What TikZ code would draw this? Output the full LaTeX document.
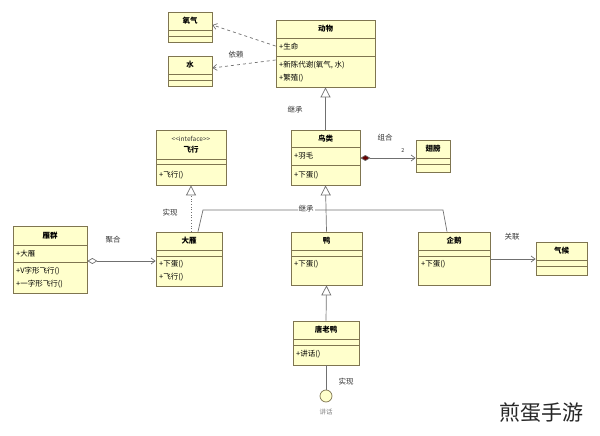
\documentclass[tikz,border=0pt]{standalone}
\usepackage{fontspec}
\setmainfont{Noto Sans CJK SC}
\newfontfamily\wm{Noto Sans CJK SC}
\usetikzlibrary{arrows.meta}
\definecolor{fillc}{HTML}{FFFFCC}
\definecolor{edgec}{HTML}{7F7550}
\definecolor{linec}{HTML}{707070}
\tikzset{
 box/.style={draw=edgec,fill=fillc,line width=0.8pt,inner sep=0pt},
 ttl/.style={font=\bfseries\fontsize{7.5}{8}\selectfont,inner sep=0pt},
 itm/.style={font=\fontsize{7.5}{8}\selectfont,anchor=west,inner sep=0pt},
 lbl/.style={font=\fontsize{7.5}{8}\selectfont,text=black!80,inner sep=0pt},
 conn/.style={draw=linec,line width=0.7pt},
 opena/.style={-{Straight Barb[length=4pt,width=6pt]}},
 tri/.style={-{Triangle[open,length=10pt,width=10pt,fill=white]}},
}
\newcommand{\cls}[7]{%
 \pgfmathsetmacro{\cw}{#4-#2}\pgfmathsetmacro{\ch}{#5-#3}%
 \pgfmathsetmacro{\cx}{(#4+#2)/2}\pgfmathsetmacro{\cy}{(#5+#3)/2}%
 \node[box,minimum width=\cw pt,minimum height=\ch pt] (#1) at (\cx,\cy) {};
 \draw[edgec,line width=0.8pt] (#2,#6) -- (#4,#6) (#2,#7) -- (#4,#7);}
\begin{document}
\begin{tikzpicture}[x=1pt,y=-1pt]
\useasboundingbox (0,0) rectangle (600,436);
% classes
\cls{o2}{168}{12}{212}{42}{30}{36}
\node[ttl] at (190,21) {氧气};
\cls{water}{168}{56}{212}{86}{74}{80}
\node[ttl] at (190,65) {水};
\cls{animal}{276}{20}{375}{87}{38}{56}
\node[ttl] at (325.5,29) {动物};
\node[itm] at (279,47) {+生命};
\node[itm] at (279,65) {+新陈代谢(氧气, 水)};
\node[itm] at (279,78) {+繁殖()};
\cls{bird}{291}{130}{360}{185}{147}{165}
\node[ttl] at (325.5,138.5) {鸟类};
\node[itm] at (294,156) {+羽毛};
\node[itm] at (294,175) {+下蛋()};
\cls{wing}{416}{140}{450}{172}{158}{164}
\node[ttl] at (433,149) {翅膀};
\cls{fly}{156}{130}{226}{185}{159}{164}
\node[lbl,font=\fontsize{6.5}{8}\selectfont] at (191,139) {{<}{<}inteface{>}{>}};
\node[ttl] at (191,150) {飞行};
\node[itm,font=\itshape\fontsize{7.5}{8}\selectfont] at (159,175) {+飞行()};
\cls{goose}{156}{232}{222}{286}{250}{256}
\node[ttl] at (189,241) {大雁};
\node[itm] at (159,264) {+下蛋()};
\node[itm] at (159,277) {+飞行()};
\cls{flock}{13}{226}{87}{293}{245}{262}
\node[ttl] at (50,235.5) {雁群};
\node[itm] at (16,254) {+大雁};
\node[itm] at (16,271) {+V字形飞行()};
\node[itm] at (16,284) {+一字形飞行()};
\cls{duck}{291}{232}{362}{285}{250}{256}
\node[ttl] at (326.5,241) {鸭};
\node[itm] at (294,264) {+下蛋()};
\cls{peng}{418}{232}{490}{285}{250}{256}
\node[ttl] at (454,241) {企鹅};
\node[itm] at (421,264) {+下蛋()};
\cls{climate}{536}{242}{587}{275}{260}{266}
\node[ttl] at (561.5,251) {气候};
\cls{donald}{293}{321}{359}{365}{339}{345}
\node[ttl] at (326,330) {唐老鸭};
\node[itm] at (296,354) {+讲话()};
\node[draw=edgec,fill=fillc,circle,minimum size=12pt,inner sep=0pt,line width=0.7pt] (talk) at (326,396) {};
\node[lbl,text=black!50,font=\itshape\fontsize{6.5}{8}\selectfont] at (326,412) {讲话};
% dependencies
\draw[conn,dashed,opena] (animal.west |- 0,46) -- (o2.east |- 0,25);
\draw[conn,dashed,opena] (animal.west |- 0,60) -- (water.east |- 0,68);
\node[lbl] at (236,55) {依赖};
% inheritance
\draw[conn,tri] (bird.north) -- (animal.south);
\node[lbl] at (295,110) {继承};
\coordinate (jl) at (203,210);
\coordinate (jr) at (443,210);
\draw[conn,tri] (duck.north) -- (bird.south);
\draw[conn] (goose.north -| 198,0) -- (jl) -- (jr) -- (peng.north -| 447,0);
\node[lbl,fill=white,inner sep=1pt] at (306,209) {继承};
\draw[conn,tri] (donald.north) -- (duck.south);
% realization
\draw[conn,dotted,tri] (goose.north -| 191,0) -- (fly.south -| 191,0);
\node[lbl] at (170,213) {实现};
\draw[conn] (talk.north) -- (donald.south);
\node[lbl] at (346,382) {实现};
% composition
\draw[conn,{Diamond[length=10pt,width=6pt,fill=red!40!black]}-{Straight Barb[length=4pt,width=6pt]}] (bird.east |- 0,158) -- (wing.west |- 0,158);
\node[lbl] at (385,138) {组合};
\node[lbl,font=\fontsize{5.5}{6}\selectfont] at (403,151) {2};
% aggregation
\draw[conn,{Diamond[open,length=10pt,width=6pt,fill=white]}-{Straight Barb[length=4pt,width=6pt]}] (flock.east |- 0,261) -- (goose.west |- 0,261);
\node[lbl] at (113,240) {聚合};
% association
\draw[conn,opena] (peng.east |- 0,259) -- (climate.west |- 0,259);
\node[lbl] at (512,237) {关联};
% watermark
\node[font=\wm\fontsize{21}{24}\selectfont,text=black!85,inner sep=0pt] at (541,413) {煎蛋手游};
\end{tikzpicture}
\end{document}
